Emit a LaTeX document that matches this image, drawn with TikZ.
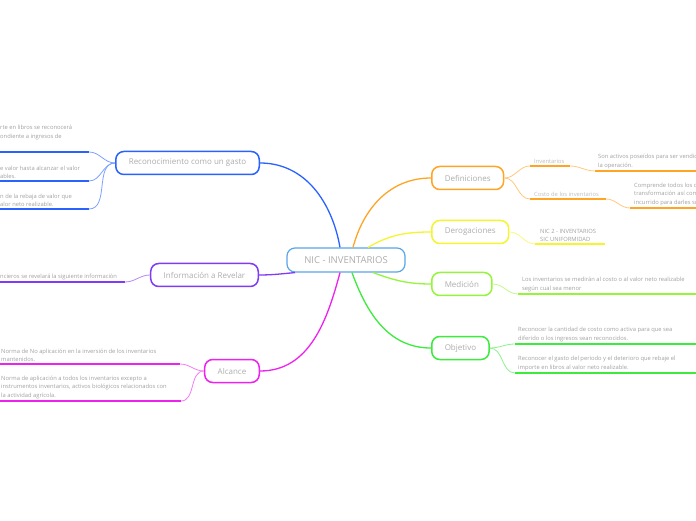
\documentclass[tikz,border=0pt]{standalone}
\usepackage{fontspec}
\setmainfont{Open Sans}
\usetikzlibrary{calc,positioning}
\definecolor{rootc}{HTML}{5AA5E6}
\definecolor{bluec}{HTML}{2962FF}
\definecolor{orngc}{HTML}{FFA526}
\definecolor{yelc}{HTML}{F5F52E}
\definecolor{limec}{HTML}{95F53A}
\definecolor{grnc}{HTML}{3CEB3C}
\definecolor{magc}{HTML}{EE22EE}
\definecolor{purc}{HTML}{7F3BF5}
\definecolor{txtc}{HTML}{ADADAD}
\definecolor{leafc}{HTML}{A0A0A0}
\tikzset{
  root/.style={draw=rootc,line width=1.2pt,rounded corners=8pt,fill=white,minimum width=118pt,minimum height=24pt,font=\fontsize{9.5}{11}\selectfont,text=txtc},
  topic/.style={draw=#1,line width=1.5pt,rounded corners=8pt,fill=white,minimum height=23pt,inner xsep=13pt,font=\fontsize{8}{10}\selectfont,text=txtc},
  leaf/.style={align=left,inner sep=0pt,anchor=south west,font=\fontsize{5.8}{8.5}\selectfont,text=leafc},
  sub/.style={leaf,text=txtc!80},
  br/.style={#1,line width=1.3pt},
  ln/.style={#1!60,line width=0.8pt},
  ul/.style={#1,line width=2pt}
}

\begin{document}
\begin{tikzpicture}[x=1pt,y=1pt]
\useasboundingbox (0,0) rectangle (696,520);
\clip (0,0) rectangle (696,520);
% centro y ramas
\node[root] (nic) at (346,260) {NIC - INVENTARIOS};
\node[topic=bluec,anchor=east] (rec) at (260,357) {Reconocimiento como un gasto};
\node[topic=purc,anchor=east] (info) at (259,245) {Información a Revelar};
\node[topic=magc,anchor=east] (alc) at (260,149) {Alcance};
\node[topic=orngc,anchor=west] (def) at (431,342) {Definiciones};
\node[topic=yelc,anchor=west] (der) at (431,288) {Derogaciones};
\node[topic=limec,anchor=west] (med) at (431,236) {Medición};
\node[topic=grnc,anchor=west] (obj) at (431,172) {Objetivo};
\foreach \s/\dx/\t/\c/\o/\i in {north/-6/rec.east/bluec/100/0,north/7/def.west/orngc/75/180,north/22/der.west/yelc/30/180,south/27/med.west/limec/-20/180,south/6/obj.west/grnc/-70/180,south/-6/alc.east/magc/-105/0,south/-51/info.east/purc/185/0}
  \draw[br=\c] ($(nic.\s)+(\dx,0)$) to[out=\o,in=\i] (\t);
% subrayados
\foreach \n/\c/\xa/\xb/\y in {da/orngc/530/570/354,db/orngc/530/606/321,dc/orngc/595/700/349,dd/orngc/630/700/312,ga/yelc/535/605/276,ma/limec/518/700/226,oa/grnc/515/700/176,ob/grnc/515/700/147,ra/bluec/-5/89/368,rb/bluec/-5/89/339,rc/bluec/-5/89/311,na/purc/-5/125/238,aa/magc/-5/180/156,ab/magc/-5/181/119}{
  \coordinate (\n a) at (\xa,\y);
  \coordinate (\n b) at (\xb,\y);
  \draw[ul=\c] (\n a) -- (\n b);}
% conectores
\foreach \p/\e/\c in {def/da/orngc,def/db/orngc,der/ga/yelc,med/ma/limec,obj/oa/grnc,obj/ob/grnc}
  \draw[ln=\c] (\p.east) to[out=0,in=180] (\e a);
\draw[ln=orngc] (dab) to[out=0,in=180] (dca);
\draw[ln=orngc] (dbb) to[out=0,in=180] (dda);
\foreach \p/\e/\c in {rec/ra/bluec,rec/rb/bluec,rec/rc/bluec,info/na/purc,alc/aa/magc,alc/ab/magc}
  \draw[ln=\c] (\p.west) to[out=180,in=0] (\e b);
% textos
\node[sub] (tda) at (534,356) {Inventarios};
\node[sub] (tdb) at (534,323) {Costo de los inventarios};
\node[leaf] (tdc) at (598,351) {Son activos poseídos para ser vendidos en el curso normal de\\la operación.};
\node[leaf] (tdd) at (634,314) {Comprende todos los costos derivados de su adquisición y\\transformación así como otros costos en los que se haya\\incurrido para darles su condición y ubicación actuales.};
\node[leaf] (tga) at (540,278) {NIC 2 - INVENTARIOS\\SIC UNIFORMIDAD};
\node[leaf] (tma) at (522,228) {Los inventarios se medirán al costo o al valor neto realizable\\según cual sea menor};
\node[leaf] (toa) at (518,178) {Reconocer la cantidad de costo como activa para que sea\\diferido o los ingresos sean reconocidos.};
\node[leaf] (tob) at (518,149) {Reconocer el gasto del periodo y el deterioro que rebaje el\\importe en libros al valor neto realizable.};
\node[leaf] (tra) at (0,380) {rte en libros se reconocerá\\ondiente a ingresos de};
\node[leaf] (trb) at (0,341) {e valor hasta alcanzar el valor\\ables.};
\node[leaf] (trc) at (0,313) {n de la rebaja de valor que\\alor neto realizable.};
\node[leaf] (tna) at (0,240) {ncieros se revelará la siguiente información};
\node[leaf] (taa) at (1,158) {Norma de No aplicación en la inversión de los inventarios\\mantenidos.};
\node[leaf] (tab) at (1,121) {Norma de aplicación a todos los inventarios excepto a\\instrumentos inventarios, activos biológicos relacionados con\\la actividad agrícola.};
\end{tikzpicture}
\end{document}
